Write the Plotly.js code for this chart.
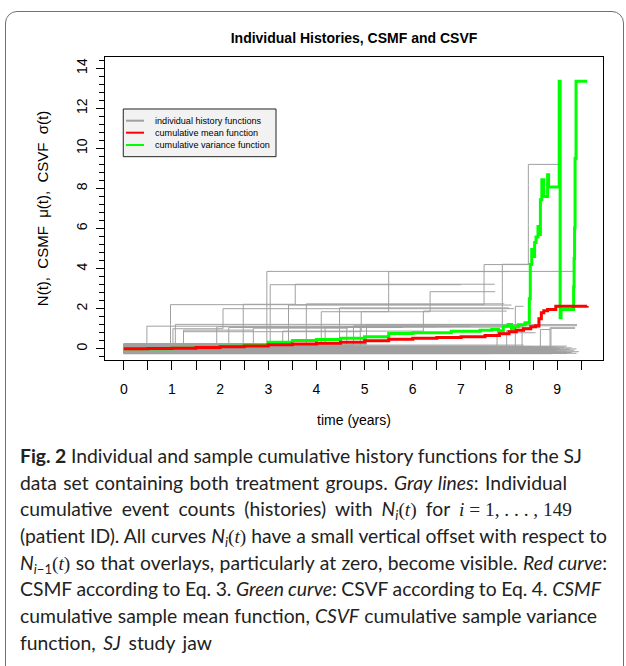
<!DOCTYPE html>
<html><head><meta charset="utf-8">
<script src="https://cdn.plot.ly/plotly-3.0.1.min.js"></script>
<style>
html,body{margin:0;padding:0;background:#fff;width:626px;height:666px;overflow:hidden}
#chart{position:absolute;left:0;top:0;width:626px;height:666px}
#frame{position:absolute;left:5px;top:11px;width:619px;height:720px;border:1.5px solid #707070;border-radius:12px;box-sizing:border-box;pointer-events:none}
#cap{position:absolute;left:20px;top:443px;font-family:'Lato','Open Sans',sans-serif;color:#222;font-size:17px}
#cap div{white-space:nowrap;height:26.7px;line-height:26.7px}
#cap span.ln{display:inline-block}
#cap sub{font-size:68%;vertical-align:-0.3em;line-height:0}
#cap .m{font-family:'Liberation Serif','DejaVu Serif',serif;word-spacing:0}
</style></head>
<body>
<div id="chart"></div>
<div id="frame"></div>
<div id="cap">
<div><span class="ln"><b>Fig. 2</b> Individual and sample cumulative history functions for the SJ</span></div>
<div><span class="ln">data set containing both treatment groups. <i>Gray lines</i>: Individual</span></div>
<div><span class="ln">cumulative event counts (histories) with <i>N<sub>i</sub></i><span class="m">(<i>t</i>)</span> for <span class="m"><i>i</i> = 1, . . . , 149</span></span></div>
<div><span class="ln" id="longline">(patient ID). All curves <i>N<sub>i</sub></i><span class="m">(<i>t</i>)</span> have a small vertical offset with respect to</span></div>
<div><span class="ln"><i>N</i><sub><i>i</i>−1</sub><span class="m">(<i>t</i>)</span> so that overlays, particularly at zero, become visible. <i>Red curve</i>:</span></div>
<div><span class="ln">CSMF according to Eq. 3. <i>Green curve</i>: CSVF according to Eq. 4. <i>CSMF</i></span></div>
<div><span class="ln">cumulative sample mean function, <i>CSVF</i> cumulative sample variance</span></div>
<div><span class="ln">function, <i>SJ</i> study jaw</span></div>
</div>
<script>
// ---- data ----
const xTickVals = [0,1,2,3,4,5,6,7,8,9];
const yTickVals = [0,2,4,6,8,10,12,14];

// CSMF (red)
const redT = [0,0.5,1.0,1.5,2.0,2.5,3.0,3.5,4.0,4.5,5.0,5.5,6.0,6.5,7.0,7.5,7.8,8.0,8.15,8.3,8.45,8.55,8.62,8.67,8.72,8.8,8.97,9.62];
const redV = [0,0.01,0.03,0.06,0.1,0.14,0.2,0.24,0.28,0.33,0.4,0.47,0.52,0.56,0.6,0.66,0.75,0.85,0.92,1.0,1.1,1.15,1.5,1.8,1.9,1.96,2.12,2.13];

// CSVF (green)
const greenT = [0,1.0,2.0,2.5,3.0,3.5,4.0,4.5,5.0,5.5,6.0,6.8,7.4,7.64,7.78,7.88,7.98,8.05,8.12,8.19,8.33,8.42,8.44,8.47,8.5,8.53,8.56,8.6,8.63,8.65,8.68,8.72,8.77,8.8,8.82,9.04,9.06,9.08,9.34,9.35,9.36,9.37,9.39,9.62];
const greenV = [0,0.03,0.12,0.2,0.33,0.41,0.46,0.52,0.6,0.76,0.8,0.88,0.92,0.96,0.9,1.13,1.21,1.0,1.1,1.2,1.3,2.5,4.2,4.95,4.6,5.3,5.58,6.1,5.7,7.44,8.43,7.6,7.6,8.68,8.07,13.35,1.55,1.96,3.1,4.5,6.03,9.5,13.35,13.35];

// individual histories: patients with events (id, event times, end of follow-up)
const evId = [114,136,75,142,130,148,135,33,30,29,87,141,111,63,90,81,105,93,54,99,106,120,112,137,39,14,45,91,84];
const evTimes = [[0.48],[0.97,0.97,7.48,7.48,8.4,8.4,8.4,8.4,8.4],[1.02,2.06],[2.48,2.48,3.56],[3.42,3.42],[3.79,3.79],[3.04,3.04,3.04],[2.97,2.97,2.97,2.97],[1.24,4.93,5.5,5.5],[4.1,4.1,6.36],[4.48,4.48],[1.07,7.86,7.86,7.86],[8.13,8.13],[8.65],[8.85],[8.87],[1.93],[2.18],[1.24],[4.18],[4.63],[4.77],[4.91],[5.04],[3.3,6.22],[7.75],[7.95],[8.27],[2.69]];
const evEnd = [8.3,9.06,8.1,7.7,8.05,7.9,7.0,9.37,8.02,7.71,8.0,8.44,8.3,8.85,9.37,9.37,6.5,5.8,2.69,8.3,6.8,9.41,7.2,9.41,7.95,8.55,8.15,8.65,4.65];
// patients without events: end of follow-up, in id order
const zeroEnd = [8.9,7.6,9.2,5.4,8.1,6.7,9.4,7.9,4.3,8.6,
 7.2,9.0,6.1,8.4,7.7,3.6,8.8,9.3,6.9,7.4,
 8.2,5.8,9.1,7.0,8.5,6.4,7.8,9.45,4.9,8.0,
 7.3,8.7,6.2,9.2,7.5,5.1,8.3,7.1,9.0,6.6,
 8.6,7.9,3.9,8.95,7.65,6.0,9.35,8.15,7.25,5.6,
 8.45,7.85,9.1,6.8,8.05,4.6,7.45,8.75,9.25,6.3,
 7.95,8.55,5.2,9.4,7.15,8.25,6.5,8.9,7.55,3.3,
 8.35,9.05,7.05,6.15,8.65,7.75,9.3,5.5,8.1,7.35,
 6.95,8.8,4.1,9.15,7.6,8.4,6.45,9.0,7.9,8.2,
 5.9,8.5,7.7,9.2,
 2.7,2.68,2.74,2.72,2.7,2.66,2.76,2.71,2.69,2.73,2.75,2.7,2.67,8.3,2.72,2.7,2.74,2.69,2.71,2.76,2.68,2.73,2.7,2.72,2.75,2.7];
const nPatients = 149;

// ---- build gray step curves (small vertical offset per patient id) ----
const gx = [], gy = [];
let zi = 0;
for (let id = 1; id <= nPatients; id++) {
  const off = (id - 75) * 0.0033;
  const k = evId.indexOf(id);
  let times, end;
  if (k >= 0) { times = evTimes[k]; end = evEnd[k]; }
  else { if (zi >= zeroEnd.length) continue; times = []; end = zeroEnd[zi++]; }
  gx.push(0); gy.push(off);
  times.forEach((t, j) => { gx.push(t); gy.push(j + 1 + off); });
  gx.push(end); gy.push(times.length + off);
  gx.push(null); gy.push(null);
}

const FONT = 'Liberation Sans, Arial, Helvetica, sans-serif';
const traces = [
  {x: gx, y: gy, type: 'scatter', mode: 'lines', line: {shape: 'hv', color: '#a0a0a0', width: 1}, connectgaps: false, hoverinfo: 'skip', showlegend: false},
  {x: greenT, y: greenV, type: 'scatter', mode: 'lines', line: {shape: 'hv', color: '#00ff00', width: 3}, hoverinfo: 'skip', showlegend: false},
  {x: redT, y: redV, type: 'scatter', mode: 'lines', line: {shape: 'hv', color: '#ff0000', width: 3}, hoverinfo: 'skip', showlegend: false}
];

// manual legend (R-style box)
const legLabels = ['individual history functions', 'cumulative mean function', 'cumulative variance function'];
const legColors = ['#a0a0a0', '#ff0000', '#00ff00'];
const legRows = [0.7898, 0.7502, 0.7096];
const shapes = [{type: 'rect', xref: 'paper', yref: 'paper', x0: 0.0367, x1: 0.3434, y0: 0.671, y1: 0.8284, fillcolor: '#f2f2f2', line: {color: '#222', width: 1}, layer: 'above'}];
const annotations = [];
legLabels.forEach((lab, i) => {
  shapes.push({type: 'line', xref: 'paper', yref: 'paper', x0: 0.0422, x1: 0.0783, y0: legRows[i], y1: legRows[i], line: {color: legColors[i], width: 2}, layer: 'above'});
  annotations.push({xref: 'paper', yref: 'paper', x: 0.0958, y: legRows[i], xanchor: 'left', yanchor: 'middle', text: lab, showarrow: false, font: {family: FONT, size: 9.1, color: '#000'}});
});

const layout = {
  width: 626, height: 666,
  margin: {l: 105, r: 23, t: 57, b: 306},
  paper_bgcolor: 'rgba(0,0,0,0)', plot_bgcolor: '#fff',
  font: {family: FONT, color: '#000'},
  title: {text: '<b>Individual Histories, CSMF and CSVF</b>', font: {family: FONT, size: 14, color: '#000'}, x: 0.5, xref: 'paper', xanchor: 'center', y: 1 - 38/666, yref: 'container', yanchor: 'middle'},
  xaxis: {range: [-0.39, 9.95], tickvals: xTickVals, ticktext: xTickVals.map(String), ticks: 'outside', ticklen: 9, tickcolor: '#000', tickwidth: 1,
    minor: {dtick: 0.5, tick0: 0, ticks: 'outside', ticklen: 9, tickcolor: '#000', tickwidth: 1},
    showline: true, mirror: true, linecolor: '#000', linewidth: 1, showgrid: false, zeroline: false,
    tickfont: {family: FONT, size: 14}, ticklabelstandoff: 7,
    title: {text: 'time (years)', font: {family: FONT, size: 14}, standoff: 19}},
  yaxis: {range: [-0.56, 14.56], tickvals: yTickVals, ticktext: yTickVals.map(String), ticks: 'outside', ticklen: 8, tickcolor: '#000', tickwidth: 1,
    minor: {dtick: 0.4, tick0: 0, ticks: 'outside', ticklen: 5, tickcolor: '#000', tickwidth: 1},
    showline: true, mirror: true, linecolor: '#000', linewidth: 1, showgrid: false, zeroline: false,
    tickangle: -90, tickfont: {family: FONT, size: 14}, ticklabelstandoff: 3,
    title: {text: 'N(t),\u00a0 CSMF\u00a0 \u03bc(t),\u00a0 CSVF\u00a0 \u03c3(t)', font: {family: FONT, size: 15}, standoff: 22}},
  shapes: shapes, annotations: annotations
};

Plotly.newPlot('chart', traces, layout, {staticPlot: true, displayModeBar: false});

// caption: fit font size on the longest line, then adjust word spacing per line
const cap = document.getElementById('cap');
const ll = document.getElementById('longline');
const w0 = ll.getBoundingClientRect().width;
cap.style.fontSize = (17 * 587 / w0).toFixed(2) + 'px';
const lineWidths = [562, 547, 552, 587, 587, 581, 577, 192];
document.querySelectorAll('#cap span.ln').forEach((sp, i) => {
  const w = sp.getBoundingClientRect().width;
  let nSp = 0;
  sp.childNodes.forEach(n => { if (n.nodeType === 3) nSp += (n.textContent.match(/ /g) || []).length;
    else if (!n.classList || !n.classList.contains('m')) nSp += (n.textContent.match(/ /g) || []).length; });
  if (nSp > 0) sp.style.wordSpacing = ((lineWidths[i] - w) / nSp).toFixed(2) + 'px';
});
</script>
</body></html>
